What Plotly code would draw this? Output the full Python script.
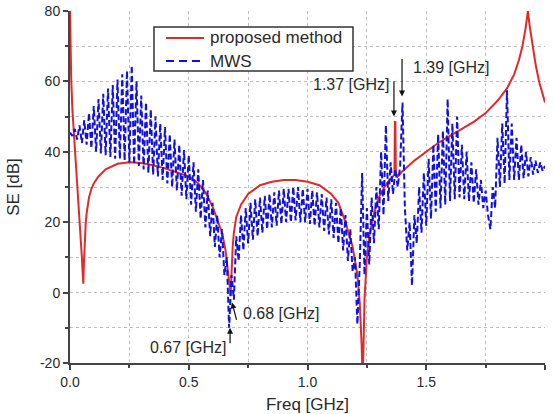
import plotly.graph_objects as go

# ---------------- data ----------------
# proposed method (red solid)
freq_prop = [0.000, 0.002, 0.005, 0.010, 0.015, 0.020, 0.025, 0.030, 0.035, 0.040,
             0.045, 0.050, 0.053, 0.056, 0.059, 0.062, 0.066, 0.070, 0.075, 0.080,
             0.090, 0.100, 0.120, 0.150, 0.200, 0.250, 0.300, 0.350, 0.400, 0.450,
             0.500, 0.540, 0.570, 0.600, 0.620, 0.640, 0.655, 0.665, 0.672, 0.676,
             0.680, 0.685, 0.690, 0.700, 0.720, 0.750, 0.800, 0.850, 0.900, 0.950,
             1.000, 1.050, 1.100, 1.130, 1.160, 1.190, 1.210, 1.220, 1.228, 1.232,
             1.236, 1.240, 1.250, 1.260, 1.280, 1.300, 1.320, 1.340, 1.360, 1.366,
             1.368, 1.370, 1.372, 1.380, 1.400, 1.450, 1.500, 1.550, 1.600, 1.650,
             1.700, 1.750, 1.800, 1.840, 1.870, 1.890, 1.905, 1.918, 1.928, 1.935,
             1.945, 1.960, 1.975, 1.990, 2.000]
se_prop = [80, 70, 61, 52, 47, 43, 38, 33, 28, 23,
           17, 10, 6, 2.5, 9, 15, 19.5, 22.5, 25, 27,
           29.5, 31, 33, 35, 36.6, 37, 36.8, 36.2, 35.3, 34.2,
           33, 31, 28.5, 24.5, 21, 17, 12, 7, 2, -1,
           6, 13, 17, 21.5, 25, 28, 30.5, 31.5, 32, 32,
           31.5, 30.5, 28, 25.5, 20, 13, 5, -3, -15, -25,
           -15, -2, 10, 16, 22.5, 27, 29.5, 31.5, 33, 33.5,
           48.5, 48.5, 34, 33, 34.5, 37.5, 40, 42.5, 44.5, 46.5,
           48.5, 51, 54.5, 58, 62, 66, 70, 75, 80, 76,
           71, 65, 60, 56, 54]

# MWS simulation (blue dashed), sampled every 0.01 GHz
freq_mws = [0.00, 0.01, 0.02, 0.03, 0.04, 0.05, 0.06, 0.07, 0.08, 0.09,
            0.10, 0.11, 0.12, 0.13, 0.14, 0.15, 0.16, 0.17, 0.18, 0.19,
            0.20, 0.21, 0.22, 0.23, 0.24, 0.25, 0.26, 0.27, 0.28, 0.29,
            0.30, 0.31, 0.32, 0.33, 0.34, 0.35, 0.36, 0.37, 0.38, 0.39,
            0.40, 0.41, 0.42, 0.43, 0.44, 0.45, 0.46, 0.47, 0.48, 0.49,
            0.50, 0.51, 0.52, 0.53, 0.54, 0.55, 0.56, 0.57, 0.58, 0.59,
            0.60, 0.61, 0.62, 0.63, 0.64, 0.65, 0.66, 0.67, 0.68, 0.69,
            0.70, 0.71, 0.72, 0.73, 0.74, 0.75, 0.76, 0.77, 0.78, 0.79,
            0.80, 0.81, 0.82, 0.83, 0.84, 0.85, 0.86, 0.87, 0.88, 0.89,
            0.90, 0.91, 0.92, 0.93, 0.94, 0.95, 0.96, 0.97, 0.98, 0.99,
            1.00, 1.01, 1.02, 1.03, 1.04, 1.05, 1.06, 1.07, 1.08, 1.09,
            1.10, 1.11, 1.12, 1.13, 1.14, 1.15, 1.16, 1.17, 1.18, 1.19,
            1.20, 1.21, 1.22, 1.23, 1.24, 1.25, 1.26, 1.27, 1.28, 1.29,
            1.30, 1.31, 1.32, 1.33, 1.34, 1.35, 1.36, 1.37, 1.38, 1.39,
            1.40, 1.41, 1.42, 1.43, 1.44, 1.45, 1.46, 1.47, 1.48, 1.49,
            1.50, 1.51, 1.52, 1.53, 1.54, 1.55, 1.56, 1.57, 1.58, 1.59,
            1.60, 1.61, 1.62, 1.63, 1.64, 1.65, 1.66, 1.67, 1.68, 1.69,
            1.70, 1.71, 1.72, 1.73, 1.74, 1.75, 1.76, 1.77, 1.78, 1.79,
            1.80, 1.81, 1.82, 1.83, 1.84, 1.85, 1.86, 1.87, 1.88, 1.89,
            1.90, 1.91, 1.92, 1.93, 1.94, 1.95, 1.96, 1.97, 1.98, 1.99,
            2.00]
se_mws = [45.5, 44.5, 46.5, 43.5, 47.5, 42.5, 49, 42, 51, 41,
          53, 40, 55, 39.5, 56.5, 39, 58, 38.5, 59, 38,
          60.5, 38, 62, 37.5, 63, 37, 64.5, 36.5, 60, 36,
          56, 35, 54, 34, 52, 33.5, 50, 33, 48, 32,
          47, 31, 45, 30, 43.5, 29, 42, 27.5, 40.5, 26.5,
          39, 25, 37, 23, 35, 21, 32, 18.5, 29, 16,
          25.5, 13, 22, 10, 18, 5, 10, -10, 5, -2,
          16, 9, 22, 12, 24, 14, 25.5, 15, 26.5, 16,
          27, 17, 27.5, 18, 28, 18.5, 28.5, 19, 29, 19.5,
          29.5, 20, 29.5, 20, 30, 20.5, 30, 20, 29.5, 20,
          29.5, 19.5, 29, 19, 28.5, 18.5, 28, 17.5, 27, 16.5,
          26.5, 15.5, 25.5, 14, 24, 12, 22, 9, 18, 6,
          10, -9, 8, 34, 5, 24, 8, 27, 14, 30,
          18, 40, 22, 47.5, 26, 37, 28, 35, 30, 36,
          54, 24, 12, 20, 2, 22, 14, 30, 17, 34,
          19, 38, 21, 42, 23, 45, 24, 46, 25, 55,
          26, 48, 26.5, 50, 27, 42, 26.5, 40, 26, 37,
          25.5, 35, 25, 32, 24, 29, 22, 18, 30, 24,
          44, 30, 48, 31, 57.5, 32, 48, 32, 44, 32,
          42, 32.5, 40, 33, 38.5, 33.5, 37.5, 34, 37, 34.5,
          36]

x_ticks = [0.0, 0.5, 1.0, 1.5, 2.0]
x_ticklabels = ["0.0", "0.5", "1.0", "1.5", "2.0"]
y_ticks = [-20, 0, 20, 40, 60, 80]
y_ticklabels = ["-20", "0", "20", "40", "60", "80"]

series_names = ["proposed method", "MWS"]
series_colors = ["#e02a2a", "#1010e0"]

# annotation texts and their anchor data
ann_labels = ["0.67 [GHz]", "0.68 [GHz]", "1.37 [GHz]", "1.39 [GHz]"]
ann_text_pos = [(0.497, -15.6), (0.888, -6.0), (1.183, 59.0), (1.604, 64.0)]
ann_arrow_head = [(0.674, -10.0), (0.682, -2.8), (1.364, 50.0), (1.398, 55.7)]
ann_arrow_tail = [(0.674, -14.8), (0.703, -8.2), (1.364, 60.5), (1.398, 66.8)]

FONT = "Liberation Sans, Arial, sans-serif"
TXT = "#2a2a2a"

fig = go.Figure()
fig.add_trace(go.Scatter(x=freq_prop, y=se_prop, mode="lines", name=series_names[0],
                         line=dict(color=series_colors[0], width=2)))
fig.add_trace(go.Scatter(x=freq_mws, y=se_mws, mode="lines", name=series_names[1],
                         line=dict(color=series_colors[1], width=2, dash="6px,3px")))

for (tx, ty), lab in zip(ann_text_pos, ann_labels):
    fig.add_annotation(x=tx, y=ty, text=lab, showarrow=False,
                       font=dict(family=FONT, size=16, color=TXT))
for (hx, hy), (sx, sy) in zip(ann_arrow_head, ann_arrow_tail):
    fig.add_annotation(x=hx, y=hy, ax=sx, ay=sy, axref="x", ayref="y",
                       text="", showarrow=True, arrowhead=2, arrowsize=1,
                       arrowwidth=1.2, arrowcolor="#111", standoff=0, startstandoff=0,
                       font=dict(size=1))

# ---- legend box drawn in paper coordinates (plot area 70..545 x 11..363 px) ----
def px2paper(px, py):
    return (px - 70) / 475.0, (363 - py) / 352.0

bx0, by0 = px2paper(154, 71)
bx1, by1 = px2paper(353, 27)
fig.add_shape(type="rect", xref="paper", yref="paper", x0=bx0, y0=by0, x1=bx1, y1=by1,
              line=dict(color="#333", width=1.5), fillcolor="white", layer="above")
for i, (nm, col) in enumerate(zip(series_names, series_colors)):
    ly = 38 + 23 * i
    lx0, lyp = px2paper(166, ly)
    lx1, _ = px2paper(204, ly)
    fig.add_shape(type="line", xref="paper", yref="paper", x0=lx0, x1=lx1, y0=lyp, y1=lyp,
                  line=dict(color=col, width=2, dash="solid" if i == 0 else "8px,5px"),
                  layer="above")
    tx, _ = px2paper(208, ly)
    fig.add_annotation(xref="paper", yref="paper", x=tx, y=lyp, text=nm, showarrow=False,
                       xanchor="left", yanchor="middle",
                       font=dict(family=FONT, size=17, color=TXT))

grid = dict(gridcolor="#bdbdbd", griddash="dot", gridwidth=1)
fig.update_xaxes(range=[0, 2], tickvals=x_ticks, ticktext=x_ticklabels, automargin=False,
                 showline=True, linecolor="#444", linewidth=2,
                 ticks="outside", ticklen=5, tickwidth=1.5, tickcolor="#444",
                 showgrid=True, **grid, zeroline=False,
                 minor=dict(dtick=0.25, tick0=0, showgrid=True, gridcolor="#bdbdbd",
                            griddash="dot", ticks="outside", ticklen=3, tickcolor="#444"),
                 tickfont=dict(family=FONT, size=14, color=TXT),
                 title=dict(text="Freq [GHz]", font=dict(family=FONT, size=17, color=TXT),
                            standoff=12))
fig.update_yaxes(range=[-20, 80], tickvals=y_ticks, ticktext=y_ticklabels, automargin=False,
                 showline=True, linecolor="#444", linewidth=2,
                 ticks="outside", ticklen=5, tickwidth=1.5, tickcolor="#444",
                 showgrid=True, **grid, zeroline=False,
                 minor=dict(dtick=10, tick0=0, showgrid=True, gridcolor="#bdbdbd",
                            griddash="dot", ticks="outside", ticklen=3, tickcolor="#444"),
                 tickfont=dict(family=FONT, size=14, color=TXT),
                 title=dict(text="SE [dB]", font=dict(family=FONT, size=17, color=TXT),
                            standoff=16))

fig.update_layout(width=553, height=414, margin=dict(l=70, r=8, t=11, b=51),
                  paper_bgcolor="white", plot_bgcolor="white", showlegend=False)

fig.write_html("out.html")
